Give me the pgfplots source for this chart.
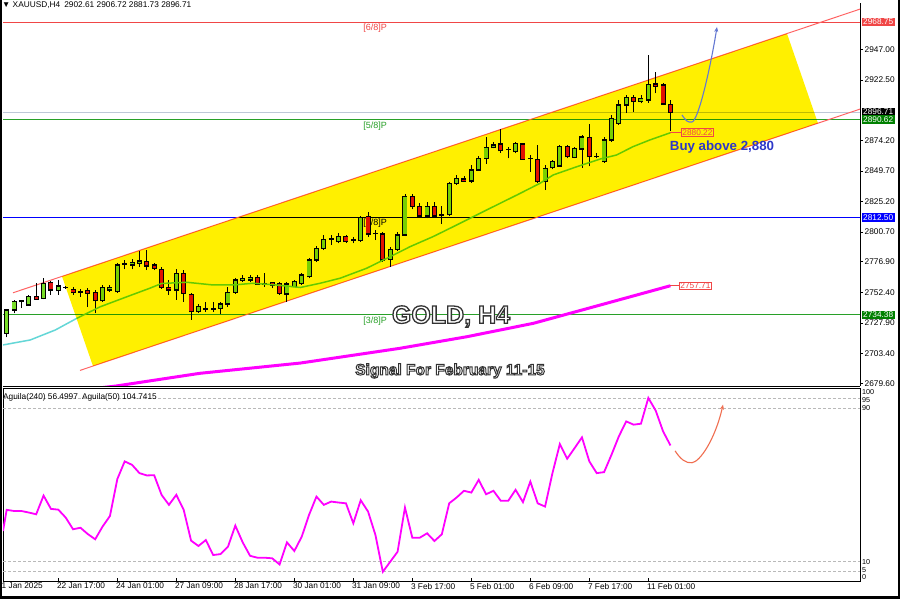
\documentclass[border=0pt]{standalone}
\usepackage{pgfplots}
\pgfplotsset{compat=1.18}
\usepackage{pgfplotstable}
\usepackage{fontspec}
\setmainfont{Liberation Sans}
\usetikzlibrary{arrows.meta}

\definecolor{bullc}{RGB}{120,220,40}
\definecolor{bearc}{RGB}{225,20,20}
\definecolor{chan}{RGB}{255,240,0}
\definecolor{chanline}{RGB}{255,100,100}
\definecolor{lvlred}{RGB}{240,70,70}
\definecolor{lvlgreen}{RGB}{40,160,40}
\definecolor{boxgreen}{RGB}{0,128,0}
\definecolor{lvlgrey}{RGB}{190,200,215}
\definecolor{maline}{RGB}{100,215,215}
\definecolor{mag}{RGB}{255,0,255}
\definecolor{buyblue}{RGB}{45,55,200}
\definecolor{arrblue}{RGB}{100,120,210}
\definecolor{arrred}{RGB}{240,110,80}

\newcommand\axfont{\fontsize{8.3bp}{9bp}\selectfont}
% outlined text: fill with current colour, stroke dark grey
\newcommand\outlined[2]{\special{pdf:literal direct 2 Tr #1 w 0.2 0.2 0.2 RG}#2\special{pdf:literal direct 0 Tr}}

\pgfplotstableread{
x o h l c
0 2719.6 2739.3 2716.4 2738.3
1 2738.3 2746.3 2735.6 2744.9
2 2744.9 2746.3 2739.7 2745.5
3 2742.3 2750.3 2741.5 2748.9
4 2748.9 2759.7 2746.3 2746.8
5 2747.6 2763.7 2746.8 2759.7
6 2760.2 2761.8 2750.3 2754.3
7 2753.7 2762.3 2750.3 2757.5
8 2756.5 2757.5 2755.3 2756.3
9 2754.9 2756.5 2750.3 2752.1
10 2752.9 2754.9 2748.9 2752.6
11 2753.7 2755.9 2740.5 2751.6
12 2752.1 2754.3 2735.6 2745.7
13 2745.7 2758.3 2744.9 2756.5
14 2754.3 2758.3 2752.9 2756.5
15 2752.9 2775.7 2752.1 2774.3
16 2775.0 2778.3 2770.9 2775.3
17 2774.3 2778.9 2770.9 2776.5
18 2775.7 2785.8 2772.9 2777.5
19 2777.0 2786.3 2770.3 2773.5
20 2774.3 2775.7 2770.3 2771.7
21 2770.9 2772.5 2754.9 2756.5
22 2756.5 2762.3 2750.3 2754.3
23 2754.3 2770.9 2746.3 2767.7
24 2767.7 2770.3 2744.9 2751.7
25 2750.9 2751.7 2730.3 2736.9
26 2736.9 2743.1 2736.1 2740.9
27 2739.1 2744.9 2736.9 2739.5
28 2739.3 2744.9 2736.9 2738.9
29 2739.7 2744.9 2735.1 2743.1
30 2743.1 2756.9 2740.9 2752.5
31 2752.5 2763.7 2751.1 2762.3
32 2761.8 2766.3 2760.9 2763.7
33 2762.3 2766.3 2760.9 2764.5
34 2764.2 2766.3 2758.3 2759.1
35 2759.3 2767.7 2756.9 2759.0
36 2760.2 2760.9 2755.6 2758.3
37 2759.7 2760.9 2750.3 2751.7
38 2751.1 2760.9 2744.9 2759.1
39 2756.9 2762.3 2756.5 2760.9
40 2759.7 2767.7 2758.3 2766.3
41 2764.9 2779.7 2763.7 2778.3
42 2778.3 2789.5 2776.9 2787.7
43 2787.7 2798.3 2786.3 2794.9
44 2794.9 2798.3 2790.3 2795.1
45 2792.9 2799.7 2791.7 2796.9
46 2796.9 2798.3 2792.1 2792.9
47 2794.3 2796.9 2791.7 2794.1
48 2793.8 2813.5 2792.9 2812.5
49 2813.0 2817.0 2797.0 2799.1
50 2799.7 2802.3 2794.3 2799.3
51 2799.1 2800.9 2776.9 2778.3
52 2778.9 2788.9 2772.9 2786.9
53 2786.9 2800.9 2785.8 2798.3
54 2798.3 2831.1 2797.5 2829.5
55 2829.5 2831.1 2818.9 2821.0
56 2821.0 2823.7 2812.5 2813.5
57 2813.5 2825.0 2811.7 2821.0
58 2821.0 2825.0 2812.5 2813.5
59 2814.3 2821.5 2807.1 2814.4
60 2814.4 2841.0 2813.5 2839.7
61 2839.7 2846.4 2838.4 2843.7
62 2843.2 2845.6 2841.0 2841.6
63 2841.6 2854.4 2840.2 2850.4
64 2850.4 2861.6 2849.6 2859.7
65 2859.7 2877.0 2855.2 2868.2
66 2868.2 2873.0 2867.7 2870.4
67 2871.2 2882.9 2864.2 2865.8
68 2866.8 2869.0 2859.7 2867.0
69 2865.0 2873.0 2863.7 2871.7
70 2871.2 2872.2 2858.4 2858.9
71 2859.5 2862.4 2849.0 2859.7
72 2858.9 2870.4 2840.2 2841.0
73 2841.0 2854.4 2834.3 2851.7
74 2852.2 2858.4 2850.9 2857.0
75 2853.6 2870.4 2853.0 2869.0
76 2869.0 2870.4 2859.7 2861.0
77 2860.5 2869.0 2859.7 2867.7
78 2867.2 2878.4 2852.0 2876.8
79 2876.4 2886.8 2853.2 2861.0
80 2861.2 2863.7 2859.7 2861.0
81 2857.0 2877.0 2856.2 2874.4
82 2874.4 2894.4 2873.0 2891.8
83 2887.8 2906.4 2886.4 2902.4
84 2902.4 2910.4 2896.2 2908.6
85 2908.6 2910.4 2897.0 2905.1
86 2905.1 2910.4 2903.8 2907.8
87 2906.4 2942.4 2904.3 2918.9
88 2919.2 2929.1 2911.8 2917.6
89 2918.4 2919.8 2902.4 2903.2
90 2902.61 2906.72 2881.73 2896.71
}\candles

\begin{document}
\begin{tikzpicture}
\useasboundingbox (0,0) rectangle (900bp,599bp);
\fill[white] (0,0) rectangle (900bp,599bp);
% ---------------- main price panel ----------------
\begin{axis}[at={(3bp,213bp)}, anchor=south west, scale only axis,
  width=857bp, height=383bp,
  xmin=-0.5, xmax=115.7, ymin=2677.44, ymax=2984.07,
  axis x line*=bottom, axis y line*=right,
  xtick=\empty,
  ytick={2679.6,2703.4,2727.9,2752.4,2776.9,2800.7,2825.2,2849.7,2874.2,2922.5,2947},
  yticklabels={2679.60,2703.40,2727.90,2752.40,2776.90,2800.70,2825.20,2849.70,2874.20,2922.50,2947.00},
  tick align=outside, major tick length=3bp,
  yticklabel style={font=\axfont, inner sep=1bp, xshift=0.5bp},
  axis line style={black, line width=0.8bp}, tick style={black, line width=0.6bp},
  clip mode=individual]
  % horizontal levels
  \addplot[lvlred, line width=1bp] coordinates {(-0.5,2968.75) (115.7,2968.75)};
  \addplot[lvlgrey, line width=1bp] coordinates {(-0.5,2896.71) (115.7,2896.71)};
  \addplot[lvlgreen, line width=1bp] coordinates {(-0.5,2890.62) (115.7,2890.62)};
  \addplot[blue, line width=1.2bp] coordinates {(-0.5,2812.5) (115.7,2812.5)};
  \addplot[lvlgreen, line width=1bp] coordinates {(-0.5,2734.38) (115.7,2734.38)};
  \node[text=lvlred, font=\fontsize{9bp}{10bp}\selectfont, inner sep=0pt] at (axis cs:49.94,2963.6) {[6/8]P};
  \node[text=lvlgreen, font=\fontsize{9bp}{10bp}\selectfont, inner sep=0pt] at (axis cs:49.94,2885.3) {[5/8]P};
  \node[text=black, font=\fontsize{9bp}{10bp}\selectfont, inner sep=0pt] at (axis cs:49.94,2807.6) {[4/8]P};
  \node[text=lvlgreen, font=\fontsize{9bp}{10bp}\selectfont, inner sep=0pt] at (axis cs:49.94,2729.4) {[3/8]P};
  % channel lines
  \addplot[chanline, line width=1bp] coordinates {(0.854,2752.06) (117.06,2981.87)};
  \addplot[chanline, line width=1bp] coordinates {(9.94,2689.93) (117.06,2901.81)};
  % candles: wicks
  \addplot[black, line width=0.9bp, quiver={u=0, v={\thisrow{h}-\thisrow{l}}}] table[x=x, y=l] {\candles};
  % body outlines
  \addplot[black, line width=5bp, quiver={u=0, v={abs(\thisrow{c}-\thisrow{o})+0.9}}] table[x=x, y expr={min(\thisrow{o},\thisrow{c})-0.45}] {\candles};
  % bull bodies
  \addplot[bullc, line width=3.2bp, quiver={u=0, v={max(\thisrow{c}-\thisrow{o}-0.9,0)}}] table[x=x, y expr={\thisrow{o}+0.45}] {\candles};
  % bear bodies
  \addplot[bearc, line width=3.2bp, quiver={u=0, v={max(\thisrow{o}-\thisrow{c}-0.9,0)}}] table[x=x, y expr={\thisrow{c}+0.45}] {\candles};
  % moving averages
  \addplot[maline, line width=1.5bp] coordinates {(-0.5,2710.3) (3.2,2714.3) (6.6,2722.3) (9.5,2731.6) (12.7,2740.9) (16.3,2748.9) (19.4,2755.7) (21.0,2759.5) (24.4,2760.5) (28.0,2758.3) (30.7,2758.3) (33.4,2759.7) (36.6,2758.3) (39.8,2756.3) (42.5,2759.7) (45.2,2763.7) (48.8,2771.7) (52.0,2781.0) (54.7,2789.0) (57.8,2797.0) (61.0,2806.3) (63.7,2814.3) (66.9,2823.7) (69.2,2830.4) (72.3,2839.7) (74.1,2846.4) (77.3,2853.0) (80.5,2859.2) (82.7,2862.4) (84.9,2869.0) (87.2,2874.4) (90,2880.22)};
  \addplot[mag, line width=3bp] coordinates {(9,2673.5) (14.8,2677.4) (26.2,2687.6) (39.8,2695.8) (53.3,2707.6) (62.4,2716.9) (71.4,2727.6) (80.5,2742.3) (90,2757.71)};
  % yellow channel (multiplied like the MT4 fill)
  \addplot[draw=none, fill=chan, blend mode=multiply] coordinates {(7.50,2765.2) (105.8,2959.57) (110.0,2887.8) (11.70,2693.4)} -- cycle;
  % price labels
  \draw[lvlred, line width=0.8bp] (axis cs:90,2880.22) -- (axis cs:91.43,2880.22);
  \node[draw=lvlred, text=lvlred, font=\axfont, inner xsep=1.2bp, inner ysep=1bp, anchor=west] at (axis cs:91.43,2880.6) {2880.22};
  \draw[lvlred, line width=0.8bp] (axis cs:90,2757.71) -- (axis cs:91.16,2757.71);
  \node[draw=lvlred, fill=white, text=lvlred, font=\axfont, inner xsep=1.2bp, inner ysep=1bp, anchor=west] at (axis cs:91.16,2757.71) {2757.71};
  \node[text=buyblue, font=\bfseries\fontsize{13.3bp}{15bp}\selectfont, inner sep=0pt] at (axis cs:96.99,2868.38) {Buy above 2,880};
  % right axis boxes
  \node[fill=lvlred, text=white, font=\axfont, inner xsep=1.5bp, inner ysep=1.3bp, anchor=west, xshift=1.5bp] at (axis cs:115.7,2968.75) {2968.75};
  \node[fill=black, text=white, font=\axfont, inner xsep=1.5bp, inner ysep=1.3bp, anchor=west, xshift=1.5bp] at (axis cs:115.7,2896.71) {2896.71};
  \node[fill=boxgreen, text=white, font=\axfont, inner xsep=1.5bp, inner ysep=1.3bp, anchor=west, xshift=1.5bp] at (axis cs:115.7,2890.62) {2890.62};
  \node[fill=blue, text=white, font=\axfont, inner xsep=1.5bp, inner ysep=1.3bp, anchor=west, xshift=1.5bp] at (axis cs:115.7,2812.5) {2812.50};
  \node[fill=boxgreen, text=white, font=\axfont, inner xsep=1.5bp, inner ysep=1.3bp, anchor=west, xshift=1.5bp] at (axis cs:115.7,2734.38) {2734.38};
  % forecast arrow
  \draw[arrblue, line width=1.1bp, -{Stealth[length=5bp,width=4bp]}] (axis cs:91.57,2894.4) .. controls (axis cs:92.11,2889.6) and (axis cs:92.38,2888.2) .. (axis cs:92.92,2888.8) .. controls (axis cs:93.74,2889.6) and (axis cs:95.37,2930.4) .. (axis cs:96.31,2964.9);
  \coordinate (goldpos) at (axis cs:60.24,2733.1);
  \coordinate (sigpos) at (axis cs:60.11,2689.45);
\end{axis}
% ---------------- oscillator panel ----------------
\begin{axis}[at={(3bp,18bp)}, anchor=south west, scale only axis,
  width=857bp, height=192.3bp,
  xmin=-0.5, xmax=115.7, ymin=0, ymax=100,
  xtick={-0.5,7,15,23,31,39,47,55,63,71,79,87},
  xticklabels={1 Jan 2025,22 Jan 17:00,24 Jan 01:00,27 Jan 09:00,28 Jan 17:00,30 Jan 01:00,31 Jan 09:00,3 Feb 17:00,5 Feb 01:00,6 Feb 09:00,7 Feb 17:00,11 Feb 01:00},
  ytick=\empty, tick pos=left,
  tick align=inside, major tick length=3bp,
  xticklabel style={anchor=north west, font=\axfont, inner sep=0pt, xshift=-1.5bp, yshift=-2bp},
  axis line style={black, line width=0.8bp}, tick style={black, line width=0.6bp},
  clip mode=individual]
  \addplot[gray!55, line width=0.6bp, dash pattern=on 2.5bp off 2.5bp] coordinates {(-0.5,95) (115.7,95)};
  \addplot[gray!55, line width=0.6bp, dash pattern=on 2.5bp off 2.5bp] coordinates {(-0.5,90) (115.7,90)};
  \addplot[gray!55, line width=0.6bp, dash pattern=on 2.5bp off 2.5bp] coordinates {(-0.5,10) (115.7,10)};
  \addplot[gray!55, line width=0.6bp, dash pattern=on 2.5bp off 2.5bp] coordinates {(-0.5,5) (115.7,5)};
  \addplot[mag, line width=1.8bp] coordinates {(-0.5,26) (0,37.0) (1,36.4) (2,36.4) (3,35.6) (4,34.7) (5,44.4) (6,37.5) (7,37.1) (8,33.0) (9,26.9) (10,27.7) (11,24.4) (12,21.7) (13,28.3) (14,33.8) (15,53.0) (16,62.2) (17,60.4) (18,56.1) (19,54.9) (20,55.0) (21,44.8) (22,39.6) (23,44.8) (24,37.0) (25,21.0) (26,18.2) (27,21.3) (28,13.5) (29,14.0) (30,17.8) (31,28.8) (32,20.1) (33,13.1) (34,12.1) (35,12.1) (36,11.8) (37,8.6) (38,20.1) (39,15.6) (40,23.0) (41,34.4) (42,43.9) (43,39.6) (44,41.3) (45,40.8) (46,40.4) (47,30.0) (48,42.0) (49,36.1) (50,23.9) (51,4.8) (52,10.0) (53,15.2) (54,38.2) (55,22.5) (56,22.5) (57,24.8) (58,20.8) (59,24.3) (60,40.4) (61,43.4) (62,46.9) (63,46.0) (64,52.6) (65,45.1) (66,46.9) (67,41.7) (68,41.7) (69,47.4) (70,41.0) (71,51.7) (72,40.4) (73,38.7) (74,56.1) (75,71.2) (76,63.6) (77,69.1) (78,74.7) (79,62.2) (80,56.1) (81,56.6) (82,65.6) (83,75.2) (84,83.0) (85,81.3) (86,81.8) (87,95.2) (88,88.6) (89,77.8) (90,70.5)};
  \draw[arrred, line width=1.1bp, -{Stealth[length=5bp,width=4bp]}] (axis cs:90.62,67.7) .. controls (axis cs:91.3,63.6) and (axis cs:92.1,61.0) .. (axis cs:92.92,61.5) .. controls (axis cs:94.0,62.0) and (axis cs:96.04,73.5) .. (axis cs:97.13,91.7);
  \node[font=\fontsize{7.2bp}{8bp}\selectfont, anchor=west, inner sep=0pt, xshift=2bp] at (axis cs:115.7,98.1) {100};
  \node[font=\fontsize{7.2bp}{8bp}\selectfont, anchor=west, inner sep=0pt, xshift=2bp] at (axis cs:115.7,94.2) {95};
  \node[font=\fontsize{7.2bp}{8bp}\selectfont, anchor=west, inner sep=0pt, xshift=2bp] at (axis cs:115.7,89.8) {90};
  \node[font=\fontsize{7.2bp}{8bp}\selectfont, anchor=west, inner sep=0pt, xshift=2bp] at (axis cs:115.7,9.9) {10};
  \node[font=\fontsize{7.2bp}{8bp}\selectfont, anchor=west, inner sep=0pt, xshift=2bp] at (axis cs:115.7,5.8) {5};
  \node[font=\fontsize{7.2bp}{8bp}\selectfont, anchor=west, inner sep=0pt, xshift=2bp] at (axis cs:115.7,1.9) {0};
\end{axis}
% headers
\node[anchor=west, inner sep=0pt, font=\axfont] at (2bp,594bp) {▼ XAUUSD,H4\enspace 2902.61 2906.72 2881.73 2896.71};
\node[anchor=west, inner sep=0pt, font=\axfont] at (3bp,201.7bp) {Aguila(240) 56.4997\enspace Aguila(50) 104.7415};
% outlined titles (white fill, dark stroke)
\node[text=white, font=\bfseries\fontsize{25bp}{28bp}\selectfont] at (goldpos) {\outlined{1.3}{GOLD, H4}};
\node[text=white, font=\bfseries\fontsize{15.5bp}{17bp}\selectfont] at (sigpos) {\outlined{1.0}{Signal For February 11-15}};
% image frame
\fill[black] (0,0) rectangle (2bp,599bp);
\fill[black] (898bp,0) rectangle (900bp,599bp);
\fill[black] (0,0) rectangle (900bp,2.5bp);
\end{tikzpicture}
\end{document}
